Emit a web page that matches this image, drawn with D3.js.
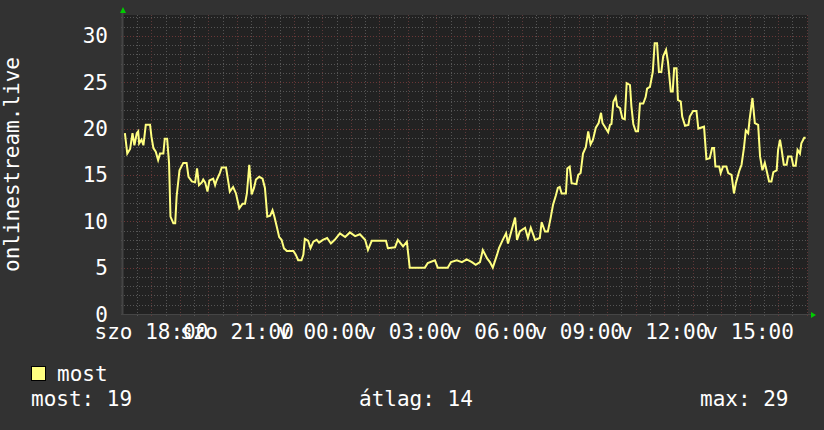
<!DOCTYPE html>
<html>
<head>
<meta charset="utf-8">
<script src="https://cdn.jsdelivr.net/npm/d3@7"></script>
<style>
  body { margin: 0; background: #323232; }
  text { font-family: "DejaVu Sans Mono", monospace; fill: #ffffff; }
</style>
</head>
<body>
<script>
var width = 824, height = 430;

// minutes after szo 17:00, and the value read at that moment
var mins = [4, 9, 15, 20, 24, 29, 32, 34, 39, 43, 48, 57, 60, 64, 69, 74, 78, 85, 88, 93,
  97, 100, 106, 110, 113, 119, 127, 134, 138, 145, 152, 156, 160, 166, 169, 173, 178, 182, 190, 194,
  197, 204, 208, 217, 222, 225, 232, 238, 245, 252, 257, 261, 266, 271, 276, 280, 287, 294, 299, 304,
  310, 315, 319, 324, 329, 334, 339, 345, 359, 364, 369, 376, 380, 383, 390, 395, 401, 408, 413,
  421, 430, 438, 446, 457, 468, 478, 489, 499, 510, 516, 524, 554, 558, 573, 579, 590, 598, 604, 636,
  642, 657, 663, 684, 691, 703, 714, 724, 735, 743, 752, 758, 767, 773, 779, 788, 792, 800, 807, 811,
  819, 826, 830, 836, 847, 853, 859, 868, 878, 882, 889, 895, 901, 906, 912, 916,
  920, 924, 933, 936, 941, 945, 955, 959, 964, 969, 975, 980, 985, 990, 996, 1002, 1007, 1010, 1015, 1022,
  1026, 1029, 1033, 1038, 1041, 1047, 1052, 1057, 1061, 1068, 1071, 1075, 1080, 1085, 1089, 1096, 1101, 1104, 1110, 1116,
  1120, 1125, 1129, 1134, 1138, 1144, 1148, 1154, 1158, 1161, 1166, 1169, 1175, 1178, 1184, 1191, 1194, 1201, 1208, 1212,
  1224, 1229, 1236, 1241, 1245, 1248, 1256, 1259, 1264, 1271, 1275, 1282, 1287, 1291, 1298, 1303, 1308, 1312, 1317, 1320,
  1326, 1331, 1338, 1342, 1347, 1352, 1357, 1361, 1366, 1370, 1377, 1380, 1384, 1387, 1392, 1398, 1401, 1408, 1412, 1417,
  1421, 1426, 1429, 1435, 1438];

var vals = [19.5, 17.3, 17.8, 19.5, 18.2, 19.5, 19.7, 18.4, 18.8, 18.2, 20.4, 20.4, 19.1, 17.9, 17.5, 16.6, 17.3, 17.3, 18.9, 18.9,
  16.3, 10.5, 9.8, 9.8, 12.7, 15.5, 16.3, 16.3, 14.8, 14.3, 14.2, 15.7, 13.9, 14.2, 14.5, 14.2, 13.2, 14.4, 14.6, 13.9,
  14.4, 15.2, 15.8, 15.8, 14.2, 13.2, 13.7, 13.0, 11.4, 11.9, 11.9, 13.0, 16.1, 12.9, 13.6, 14.5, 14.8, 14.6, 13.6, 10.5,
  10.6, 11.2, 10.5, 9.4, 8.3, 8.0, 7.1, 6.8, 6.8, 6.4, 5.8, 5.8, 6.4, 8.1, 7.9, 7.1, 7.8, 8.0, 7.7,
  8.0, 8.2, 7.6, 8.0, 8.7, 8.3, 8.8, 8.4, 8.6, 8.0, 6.9, 7.9, 7.9, 7.1, 7.2, 8.0, 7.3, 7.8, 5.0, 5.0,
  5.5, 5.8, 5.0, 5.0, 5.6, 5.8, 5.6, 5.9, 5.6, 5.3, 5.6, 6.9, 6.0, 5.6, 5.0, 6.4, 7.1, 8.0, 8.7, 7.6,
  9.1, 10.4, 8.0, 8.9, 9.3, 8.2, 9.3, 8.0, 8.2, 9.9, 8.9, 8.9, 10.4, 11.8, 12.8, 13.6,
  13.7, 13.0, 13.0, 15.7, 15.9, 14.1, 14.0, 15.0, 15.2, 17.3, 18.0, 19.7, 18.3, 18.8, 20.1, 20.6, 21.7, 20.6, 20.2, 19.6,
  20.4, 20.5, 22.9, 23.4, 22.4, 22.2, 21.1, 21.0, 24.9, 24.7, 22.4, 20.5, 19.7, 19.7, 22.7, 22.7, 23.4, 24.3, 24.5, 26.1,
  29.2, 29.2, 26.1, 26.1, 27.8, 28.5, 27.2, 24.0, 24.0, 26.5, 26.5, 23.1, 22.9, 21.3, 20.3, 20.4, 21.3, 21.9, 21.9, 20.0,
  20.2, 16.7, 16.8, 17.9, 17.9, 15.9, 15.9, 15.2, 15.9, 15.9, 15.2, 15.0, 13.0, 14.1, 15.4, 16.1, 17.9, 19.8, 19.5, 21.0,
  23.3, 20.6, 20.4, 17.0, 15.5, 16.3, 15.2, 14.3, 14.3, 15.3, 15.5, 17.7, 18.8, 17.9, 16.1, 16.1, 17.0, 17.0, 16.0, 16.0,
  17.7, 17.3, 18.4, 19.0, 19.0];

var yTicks = [0, 5, 10, 15, 20, 25, 30];
var dayNames = ["v", "h", "k", "sze", "cs", "p", "szo"];
var seriesName = "most";
var axisTitle = "onlinestream.live";
var stats = [["most", 19], ["átlag", 14], ["max", 29]];

var start = new Date(2024, 0, 6, 17, 0); // a Saturday
var end = d3.timeMinute.offset(start, 1443);

var pLeft = 123, pRight = 808, pTop = 15, pBottom = 314;

var x = d3.scaleTime().domain([start, end]).range([pLeft, pRight]);
var y = d3.scaleLinear().domain([0, 32.25]).range([pBottom, pTop]);

var svg = d3.select("body").append("svg")
    .attr("width", width)
    .attr("height", height);

svg.append("rect")
    .attr("width", width).attr("height", height)
    .attr("fill", "#323232");

svg.append("rect")
    .attr("x", pLeft).attr("y", pTop)
    .attr("width", pRight - pLeft).attr("height", pBottom - pTop)
    .attr("fill", "#222222");

// grid
var g = svg.append("g");

var minorY = d3.range(1, 33).filter(function(v){ return v % 5 !== 0; });
g.selectAll(".minor-y")
    .data(minorY)
  .enter().append("line")
    .attr("x1", pLeft - 2).attr("x2", pRight)
    .attr("y1", function(d){ return Math.round(y(d)) + 0.5; })
    .attr("y2", function(d){ return Math.round(y(d)) + 0.5; })
    .attr("stroke", "#555555")
    .attr("stroke-dasharray", "1,2");

var minorX = d3.timeMinute.every(30).range(start, end).filter(function(d){ return d.getMinutes() === 30; });
g.selectAll(".minor-x")
    .data(minorX)
  .enter().append("line")
    .attr("y1", pTop).attr("y2", pBottom + 2)
    .attr("x1", function(d){ return Math.round(x(d)) + 0.5; })
    .attr("x2", function(d){ return Math.round(x(d)) + 0.5; })
    .attr("stroke", "#555555")
    .attr("stroke-dasharray", "1,2");

g.selectAll(".major-y")
    .data(yTicks.slice(1))
  .enter().append("line")
    .attr("x1", pLeft - 2).attr("x2", pRight)
    .attr("y1", function(d){ return Math.round(y(d)) + 0.5; })
    .attr("y2", function(d){ return Math.round(y(d)) + 0.5; })
    .attr("stroke", "#6a3636")
    .attr("stroke-dasharray", "1,2");

var hours = d3.timeHour.every(1).range(d3.timeMinute.offset(start, 1), end);
g.selectAll(".major-x")
    .data(hours)
  .enter().append("line")
    .attr("y1", pTop).attr("y2", pBottom + 4)
    .attr("x1", function(d){ return Math.round(x(d)) + 0.5; })
    .attr("x2", function(d){ return Math.round(x(d)) + 0.5; })
    .attr("stroke", "#5e3838")
    .attr("stroke-dasharray", "1,2");

// axes
svg.append("line")
    .attr("x1", pLeft - 0.5).attr("x2", pLeft - 0.5)
    .attr("y1", 10).attr("y2", pBottom + 1)
    .attr("stroke", "#454545").attr("stroke-width", 2);
svg.append("line")
    .attr("x1", pLeft - 2).attr("x2", pRight + 4)
    .attr("y1", pBottom + 0.5).attr("y2", pBottom + 0.5)
    .attr("stroke", "#454545");
svg.append("path")
    .attr("d", "M" + (pLeft - 3) + ",13L" + (pLeft + 3) + ",13L" + pLeft + ",7Z")
    .attr("fill", "#00cc00");
svg.append("path")
    .attr("d", "M" + (pRight + 3) + "," + (pBottom - 2) + "L" + (pRight + 3) + "," + (pBottom + 4) + "L" + (pRight + 8) + "," + (pBottom + 1) + "Z")
    .attr("fill", "#00cc00");

// y labels
svg.selectAll(".ylab")
    .data(yTicks)
  .enter().append("text")
    .attr("x", 108)
    .attr("y", function(d){ return y(d) + 7.5; })
    .attr("text-anchor", "end")
    .style("font-size", "21px")
    .text(function(d){ return d; });

// x labels
var fmt = d3.timeFormat("%H:%M");
svg.selectAll(".xlab")
    .data(d3.timeHour.every(3).range(d3.timeMinute.offset(start, 1), end))
  .enter().append("text")
    .attr("x", function(d){ return x(d); })
    .attr("y", 339)
    .attr("text-anchor", "middle")
    .style("font-size", "21px")
    .text(function(d){ return dayNames[d.getDay()] + " " + fmt(d); });

// y title
svg.append("text")
    .attr("transform", "translate(19," + ((pTop + pBottom) / 2) + ")rotate(-90)")
    .attr("text-anchor", "middle")
    .style("font-size", "21px")
    .text(axisTitle);

// series
var line = d3.line()
    .x(function(d, i){ return x(d3.timeMinute.offset(start, mins[i])); })
    .y(function(d){ return y(d); });

svg.append("path")
    .datum(vals)
    .attr("d", line)
    .attr("fill", "none")
    .attr("stroke", "#ffff80")
    .attr("stroke-width", 2)
    .attr("stroke-linejoin", "miter");

// legend
svg.append("rect")
    .attr("x", 31.5).attr("y", 366.5)
    .attr("width", 14).attr("height", 14)
    .attr("fill", "#ffff80")
    .attr("stroke", "#000");
svg.append("text")
    .attr("x", 57).attr("y", 381)
    .style("font-size", "21px")
    .text(seriesName);

var statX = [31, 359, 700];
svg.selectAll(".stat")
    .data(stats)
  .enter().append("text")
    .attr("x", function(d, i){ return statX[i]; })
    .attr("y", 406)
    .style("font-size", "21px")
    .text(function(d){ return d[0] + ": " + d[1]; });
</script>
</body>
</html>
